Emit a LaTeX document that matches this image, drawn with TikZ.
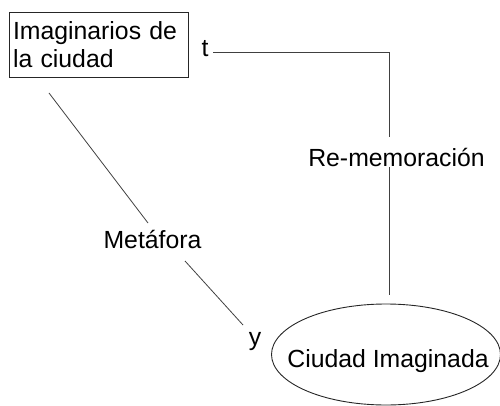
\documentclass[tikz,border=0pt]{standalone}
\usepackage{fontspec}
\setmainfont{Liberation Sans}
\usetikzlibrary{shapes.geometric}
\begin{document}
\begin{tikzpicture}[x=1pt,y=-1pt,
  lbl/.style={font=\fontsize{24.8}{28}\selectfont, inner sep=0pt, text=black},
  conn/.style={draw=black!75, line width=0.8pt},
  boxst/.style={draw=black!85, line width=0.9pt, align=left, text width=172pt, inner xsep=3.5pt, inner ysep=0pt, minimum height=64.5pt, font=\fontsize{24.8}{28}\selectfont},
  ellst/.style={ellipse, draw=black!85, line width=0.9pt, minimum width=229pt, minimum height=101pt, inner sep=0pt}]
\useasboundingbox (0,0) rectangle (500,406);
% nodes
\node[boxst] (box) at (99,45) {Imaginarios de\\la ciudad};
\node[lbl, anchor=base] (t) at (205,57) {t};
\node[lbl, anchor=base] (rem) at (396.5,167) {Re-memoraci\'on};
\node[lbl, anchor=base] (met) at (152.5,248) {Met\'afora};
\node[lbl, anchor=base] (y) at (255,345) {y};
\node[ellst] (ell) at (386,354.5) {};
\node[lbl, anchor=base] (ct) at (388,367) {Ciudad Imaginada};
% connector coordinates
\coordinate (tR) at (213,52);
\coordinate (c1) at (389,52);
\coordinate (r1) at (389,137);
\coordinate (r2) at (389,167);
\coordinate (e1) at (389,295);
\coordinate (b1) at (49,93);
\coordinate (m1) at (148,223);
\coordinate (m2) at (185,261);
\coordinate (y1) at (243,325);
% connectors
\draw[conn] (tR) -- (c1) -- (r1);
\draw[conn] (r2) -- (e1);
\draw[conn] (b1) -- (m1);
\draw[conn] (m2) -- (y1);
\end{tikzpicture}
\end{document}
